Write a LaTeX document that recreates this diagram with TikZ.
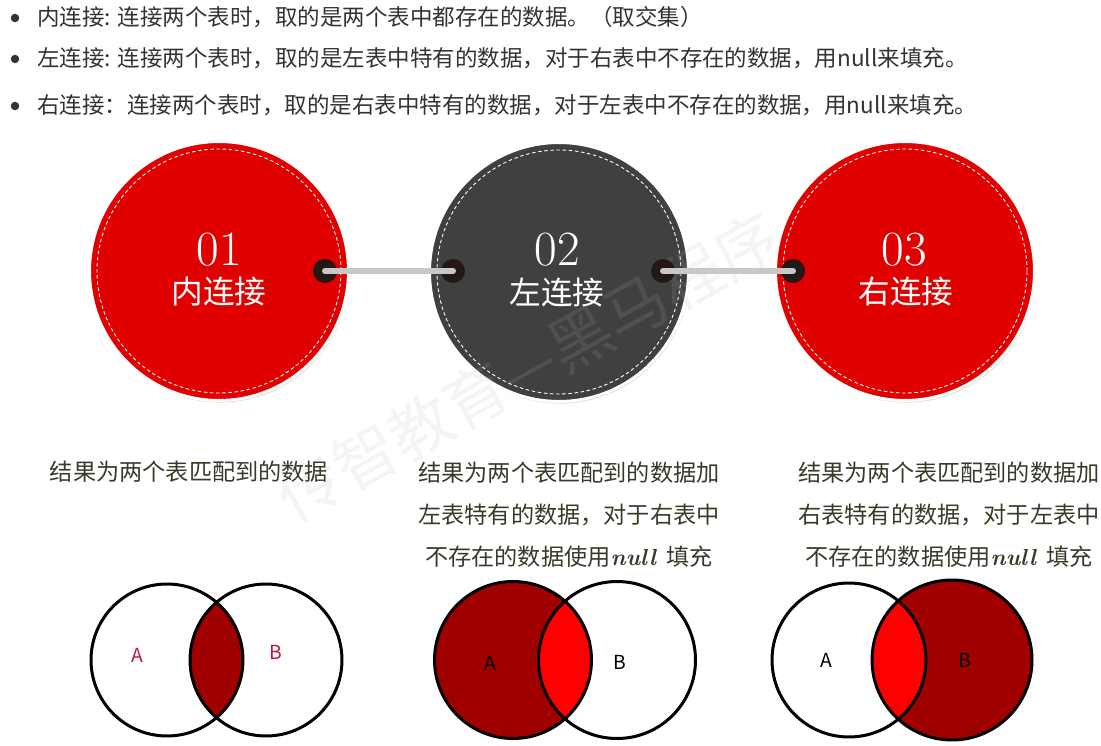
\documentclass[tikz,border=0pt]{standalone}
\usepackage{fontspec}
\newfontfamily\cjk{Noto Sans CJK SC}
\usetikzlibrary{positioning, shadows}

\definecolor{jred}{HTML}{E00000}
\definecolor{jgray}{HTML}{404040}
\definecolor{knobc}{HTML}{231815}
\definecolor{rodc}{HTML}{C8C8C8}
\definecolor{vdark}{HTML}{A00000}
\definecolor{vbright}{HTML}{FF0000}
\definecolor{bultxt}{HTML}{333333}
\definecolor{captxt}{HTML}{3A3A2A}
\definecolor{lblred}{HTML}{C0143C}

\begin{document}
\begin{tikzpicture}[x=0.02cm, y=-0.02cm,
    every node/.style={inner sep=0pt},
    bullet/.style={circle, fill=bultxt, minimum size=0.17cm},
    bultext/.style={anchor=west, text=bultxt, font=\cjk\fontsize{12.8}{15}\selectfont},
    disc/.style={circle, minimum size=5.18cm, draw=white, line width=0.06cm,
        drop shadow={shadow xshift=0.6pt, shadow yshift=-1.2pt, opacity=0.3}},
    stitch/.style={white, dash pattern=on 2pt off 1.5pt, line width=0.5pt},
    numtxt/.style={text=white, font=\fontsize{28}{28}\selectfont},
    jointxt/.style={text=white, font=\cjk\fontsize{18}{18}\selectfont},
    knob/.style={circle, fill=knobc, minimum size=0.48cm},
    rod/.style={draw=rodc, line width=0.12cm, line cap=round},
    caption/.style={align=center, text=captxt, font=\cjk\fontsize{13.2}{23.8}\selectfont},
    venn/.style={draw=black, line width=0.06cm},
    setlbl/.style={font=\cjk\fontsize{11}{11}\selectfont},
    watermark/.style={text=gray!60, opacity=0.14, rotate=29, font=\cjk\fontsize{36}{36}\selectfont}]
        \useasboundingbox (0,0) rectangle (1101,746);

        % 说明
        \node[bullet] (d1) at (15,18) {};
        \node[bullet] (d2) at (15,59) {};
        \node[bullet] (d3) at (15,106) {};
        \node[bultext] (t1) at (37,17) {内连接: 连接两个表时，取的是两个表中都存在的数据。（取交集）};
        \node[bultext] (t2) at (37,58) {左连接: 连接两个表时，取的是左表中特有的数据，对于右表中不存在的数据，用null来填充。};
        \node[bultext] (t3) at (37,105) {右连接：连接两个表时，取的是右表中特有的数据，对于左表中不存在的数据，用null来填充。};

        % 三个圆
        \node[disc, fill=jred] (c1) at (219,271) {};
        \draw[stitch] (c1.center) circle (2.44cm);
        \node[disc, fill=jgray] (c2) at (559,272) {};
        \draw[stitch] (c2.center) circle (2.44cm);

        % 水印
        \node[watermark] (wm) at (528,367) {传智教育—黑马程序};

        \node[disc, fill=jred] (c3) at (905,271) {};
        \draw[stitch] (c3.center) circle (2.44cm);

        \node[numtxt] (n1) at (219,250) {01};
        \node[jointxt] (j1) at (219,292) {内连接};
        \node[numtxt] (n2) at (557,250) {02};
        \node[jointxt] (j2) at (557,293) {左连接};
        \node[numtxt] (n3) at (904,250) {03};
        \node[jointxt] (j3) at (906,292) {右连接};

        % 连接杆
        \node[knob] (k1) at (325,271) {};
        \node[knob] (k2) at (453,271) {};
        \node[knob] (k3) at (663,271) {};
        \node[knob] (k4) at (793,271) {};
        \draw[rod] (k1.center) -- (k2.center);
        \draw[rod] (k3.center) -- (k4.center);

        % 结果说明
        \node[caption] (r1) at (189,472) {结果为两个表匹配到的数据};
        \node[caption] (r2) at (569,515) {结果为两个表匹配到的数据加\\左表特有的数据，对于右表中\\不存在的数据使用{\normalfont\bfseries\itshape null}\hspace{0.45em}填充};
        \node[caption] (r3) at (949,515) {结果为两个表匹配到的数据加\\右表特有的数据，对于左表中\\不存在的数据使用{\normalfont\bfseries\itshape null}\hspace{0.45em}填充};

        % 韦恩图: 内连接
        \coordinate (a1) at (167,660);
        \coordinate (b1) at (266,660);
        \begin{scope}
            \clip (a1) circle (1.52cm);
            \fill[vdark] (b1) circle (1.52cm);
        \end{scope}
        \draw[venn] (a1) circle (1.52cm) (b1) circle (1.52cm);
        \node[setlbl, text=lblred] (la1) at (137,655) {A};
        \node[setlbl, text=lblred] (lb1) at (276,652) {B};

        % 韦恩图: 左连接
        \coordinate (a2) at (513,660);
        \coordinate (b2) at (617,660);
        \fill[vdark] (a2) circle (1.57cm);
        \begin{scope}
            \clip (a2) circle (1.57cm);
            \fill[vbright] (b2) circle (1.57cm);
        \end{scope}
        \draw[venn] (a2) circle (1.57cm) (b2) circle (1.57cm);
        \node[setlbl] (la2) at (490,663) {A};
        \node[setlbl] (lb2) at (620,662) {B};

        % 韦恩图: 右连接
        \coordinate (a3) at (849,660);
        \coordinate (b3) at (952,660);
        \fill[vdark] (b3) circle (1.6cm);
        \begin{scope}
            \clip (b3) circle (1.6cm);
            \fill[vbright] (a3) circle (1.54cm);
        \end{scope}
        \draw[venn] (a3) circle (1.54cm) (b3) circle (1.6cm);
        \node[setlbl] (la3) at (826,660) {A};
        \node[setlbl] (lb3) at (965,660) {B};
\end{tikzpicture}
\end{document}
